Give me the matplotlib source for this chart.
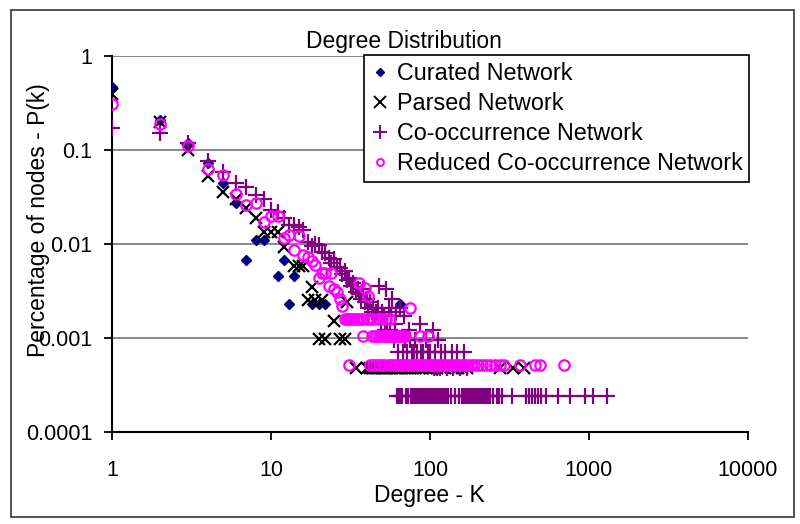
import matplotlib.pyplot as plt
import numpy as np
from matplotlib.lines import Line2D
from matplotlib.patches import Rectangle
from matplotlib.ticker import FixedLocator, NullLocator

plt.rcParams['font.family'] = ['Liberation Sans', 'DejaVu Sans']

fs = 15.5

# Curated Network
cur_k = [1, 2, 3, 4, 5, 6, 7, 8, 9, 11, 12, 13, 14, 18, 20, 22, 65]
cur_p = [0.47, 0.21, 0.12, 0.072, 0.045, 0.027, 0.0068, 0.011, 0.011, 0.0045,
         0.0068, 0.0023, 0.0045, 0.0023, 0.0023, 0.0023, 0.0023]

# Parsed Network
par_k = [1, 2, 3, 4, 5, 6, 7, 8, 9, 10, 11, 12, 14, 15, 16, 17, 18, 19, 21,
         20, 22, 25, 27, 29, 30, 34]
par_p = [0.39, 0.20, 0.099, 0.053, 0.036, 0.030, 0.024, 0.019, 0.0135, 0.0135,
         0.0135, 0.0092, 0.0058, 0.0058, 0.0058, 0.0025, 0.0035, 0.0025, 0.0025,
         0.00097, 0.00097, 0.0015, 0.00097, 0.00097, 0.0024, 0.00048]
par_k_single = [40, 42, 43, 44, 45, 46, 47, 48, 50, 51, 52, 53, 55, 57, 58, 60,
                62, 63, 65, 67, 70, 72, 75, 78, 80, 85, 88, 90, 95, 100, 105,
                110, 118, 125, 140, 150, 160, 170, 275, 335, 390]
par_p_single = 0.00048

# Co-occurrence Network
co_k = [1, 2, 3, 4, 5, 6, 7, 8, 9, 10, 11, 12, 13, 14, 15, 16, 17, 18, 19, 20,
        21, 22, 23, 24, 25, 26, 27, 28, 29, 30, 31, 32, 33, 34, 35, 36, 37, 38,
        39, 40, 41, 42, 43, 44, 45, 46, 47, 48, 49, 50, 51, 52, 53, 54, 55, 56,
        57, 58, 59, 60, 61, 63, 65, 68, 69, 70, 72, 74, 75, 77, 79, 81, 83, 86,
        88, 91, 94, 97, 100, 104, 108, 112, 118, 125, 137, 148, 163]
co_p = [0.17, 0.15, 0.12, 0.077, 0.059, 0.045, 0.040, 0.033, 0.030, 0.023,
        0.022, 0.019, 0.016, 0.016, 0.015, 0.014, 0.0105, 0.0096, 0.0101, 0.0098,
        0.0083, 0.0080, 0.0071, 0.0062, 0.0069, 0.0057, 0.0055, 0.0048, 0.0052,
        0.0041, 0.0043, 0.0036, 0.0038, 0.0031, 0.0033, 0.0029, 0.0026, 0.0033,
        0.0024, 0.0026, 0.0021, 0.0024, 0.0019, 0.0021, 0.0017, 0.0019, 0.0021,
        0.0036, 0.0014, 0.0019, 0.0017, 0.0012, 0.0033, 0.0014, 0.0021, 0.0012,
        0.0017, 0.0026, 0.00095, 0.0014, 0.0019, 0.00071, 0.0021, 0.00071,
        0.0017, 0.00095, 0.00071, 0.0012, 0.00095, 0.00071, 0.00071, 0.00095,
        0.00071, 0.0014, 0.00071, 0.00071, 0.00095, 0.00071, 0.00071, 0.0012,
        0.00071, 0.00095, 0.00071, 0.00071, 0.00071, 0.00071, 0.00071]
co_k_double = [106, 111, 116, 128, 140, 155, 172]
co_p_double = 0.00048
co_k_single = [62, 64, 66, 67, 71, 73, 76, 78, 80, 82, 84, 85, 87, 89, 90, 92,
               93, 95, 96, 98, 99, 101, 102, 105, 107, 110, 113, 115, 117, 120,
               122, 126, 130, 135, 143, 152, 158, 162, 166, 170, 175, 180, 185,
               190, 196, 200, 206, 212, 218, 226, 232, 240, 248, 262, 270, 285,
               330, 400, 420, 440, 460, 480, 500, 540, 640, 760, 940, 1060, 1300]
co_p_single = 0.00024

# Reduced Co-occurrence Network
red_k = [1, 2, 3, 4, 5, 6, 7, 8, 9, 10, 11, 12, 13, 14, 15, 16, 17, 18, 19, 20,
         21, 22, 23, 24, 25, 26, 27, 28, 36, 39, 41, 75]
red_p = [0.31, 0.19, 0.11, 0.063, 0.054, 0.034, 0.026, 0.027, 0.017, 0.020,
         0.020, 0.0115, 0.0125, 0.0086, 0.012, 0.0077, 0.0073, 0.0065, 0.0060,
         0.0043, 0.0049, 0.0049, 0.0036, 0.0049, 0.0033, 0.0031, 0.0026, 0.0022,
         0.0038, 0.0034, 0.0028, 0.0021]
red_k_triple = [29, 30, 31, 32, 33, 34, 35, 37, 38, 40, 42, 44, 47, 50, 53, 56]
red_p_triple = 0.0016
red_k_double = [38, 43, 45, 46, 48, 49, 51, 52, 54, 55, 57, 58, 59, 60, 61, 62,
                63, 64, 65, 66, 67, 68, 70, 86, 97]
red_p_double = 0.00104
red_k_single = [31, 42, 44, 46, 48, 50, 52, 55, 57, 59, 61, 63, 65, 67, 70, 72,
                74, 77, 79, 82, 85, 88, 91, 94, 98, 101, 105, 108, 112, 116,
                120, 125, 130, 135, 140, 146, 152, 158, 165, 172, 180, 190, 200,
                212, 225, 240, 255, 275, 290, 367, 456, 490, 700]
red_p_single = 0.00052

fig = plt.figure(figsize=(8, 5.24), dpi=100)
ax = fig.add_axes([0.14, 0.176, 0.795, 0.717])

ax.plot(cur_k, cur_p, "D", color="#000080", ms=5.5, ls="none", zorder=3)

pk = par_k + par_k_single
pp = par_p + [par_p_single] * len(par_k_single)
ax.plot(pk, pp, "x", color="black", ms=9, mew=1.6, ls="none", zorder=4)

ck = co_k + co_k_double + co_k_single
cp = co_p + [co_p_double] * len(co_k_double) + [co_p_single] * len(co_k_single)
ax.plot(ck, cp, "+", color="#800080", ms=11, mew=1.6, ls="none", zorder=5)

rk = red_k + red_k_triple + red_k_double + red_k_single
rp = (red_p + [red_p_triple] * len(red_k_triple) + [red_p_double] * len(red_k_double)
      + [red_p_single] * len(red_k_single))
ax.plot(rk, rp, "o", mfc="none", mec="#FF00FF", ms=7.5, mew=1.6, ls="none", zorder=6)

ax.set_xscale("log")
ax.set_yscale("log")
ax.set_xlim(1, 10000)
ax.set_ylim(0.0001, 1)

xt = [1, 10, 100, 1000, 10000]
yt = [0.0001, 0.001, 0.01, 0.1, 1]
ax.xaxis.set_major_locator(FixedLocator(xt))
ax.yaxis.set_major_locator(FixedLocator(yt))
ax.xaxis.set_minor_locator(NullLocator())
ax.yaxis.set_minor_locator(NullLocator())
ax.set_xticklabels(["1", "10", "100", "1000", "10000"], fontsize=fs)
ax.set_yticklabels(["0.0001", "0.001", "0.01", "0.1", "1"], fontsize=fs)
ax.tick_params(axis="x", direction="out", length=6, width=1.3, pad=14)
ax.tick_params(axis="y", direction="out", length=6, width=1.3, pad=8)

ax.yaxis.grid(True, color="#808080", lw=1.3)
ax.set_axisbelow(True)
ax.spines["top"].set_visible(False)
ax.spines["right"].set_visible(False)
ax.spines["left"].set_linewidth(1.5)
ax.spines["bottom"].set_linewidth(1.5)

fig.text(0.505, 0.92, "Degree Distribution", ha="center", va="center", fontsize=16.5)
fig.text(0.537, 0.055, "Degree - K", ha="center", va="center", fontsize=16.5)
fig.text(0.048, 0.58, "Percentage of nodes - P(k)", ha="center", va="center",
         rotation=90, fontsize=16.5)

handles = [
    Line2D([], [], marker="D", color="#000080", ms=4.5, ls="none"),
    Line2D([], [], marker="x", color="black", ms=8, mew=1.4, ls="none"),
    Line2D([], [], marker="+", color="#800080", ms=10, mew=1.4, ls="none"),
    Line2D([], [], marker="o", mfc="none", mec="#FF00FF", ms=5, mew=1.4, ls="none"),
]
labels = ["Curated Network", "Parsed Network", "Co-occurrence Network",
          "Reduced Co-occurrence Network"]
leg = fig.legend(handles, labels, loc="upper left", bbox_to_anchor=(364 / 800, 1 - 55 / 524),
                 fontsize=16.8, frameon=True, fancybox=False, edgecolor="black",
                 framealpha=1, borderpad=0.3, labelspacing=0.3, handlelength=0.8,
                 handletextpad=0.3, borderaxespad=0)
leg.get_frame().set_linewidth(1.2)

fig.patches.append(Rectangle((11 / 800, 1 - 517 / 524), 783 / 800, 507 / 524,
                             transform=fig.transFigure, fill=False, ec="#333333", lw=1.2))

plt.savefig("out.png", dpi=100)
